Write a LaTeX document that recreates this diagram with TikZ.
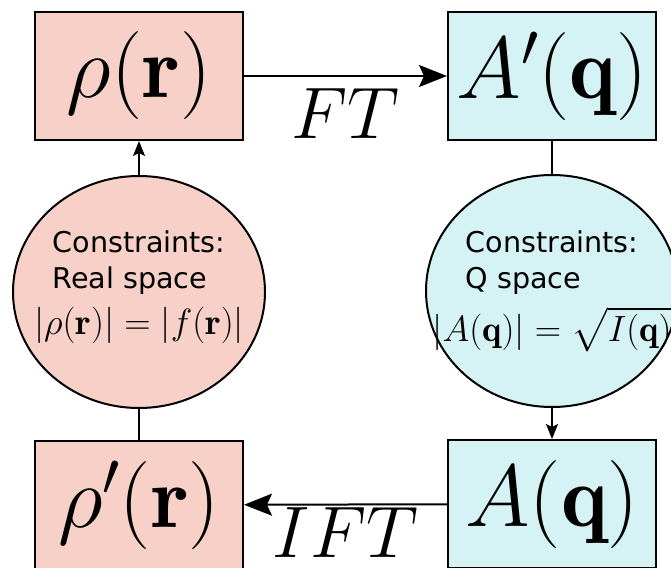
\RequirePackage{fix-cm}
\documentclass[tikz,border=0pt]{standalone}
\usepackage{amsmath,amssymb}
\usepackage{fontspec}
\setsansfont{DejaVu Sans}
\usetikzlibrary{arrows.meta,positioning,shapes.geometric}
\definecolor{salmon}{RGB}{247,209,199}
\definecolor{icecyan}{RGB}{213,242,244}

\begin{document}
\begin{tikzpicture}[x=1pt,y=1pt,>={Stealth[length=28pt,width=22pt,inset=5pt]},node distance=203pt,every node/.style={inner sep=0pt}]
\tikzstyle{box}=[draw,line width=2pt,minimum width=208pt,minimum height=128pt,font=\fontsize{88}{88}\selectfont]
\tikzstyle{blob}=[draw,ellipse,line width=2pt,minimum width=252pt,minimum height=232pt]
\tikzstyle{cons}=[align=center,font=\sffamily\fontsize{28.6}{36}\selectfont]
\tikzstyle{lbl}=[font=\fontsize{73}{73}\selectfont]
\tikzstyle{link}=[line width=1.6pt]
\tikzstyle{small}=[line width=1.6pt,-{Stealth[length=15pt,width=12pt,inset=3pt]}]
\useasboundingbox (0,0) rectangle (671,-567);
\node[box,fill=salmon] (rho) at (139,-76) {$\rho(\mathbf{r})$};
\node[box,fill=icecyan,right=of rho] (aprime) {$A'(\mathbf{q})$};
\node[blob,fill=salmon,below=34pt of rho] (real) {};
\node[blob,fill=icecyan,below=33pt of aprime] (qsp) {};
\node[box,fill=salmon,below=31pt of real] (rhop) {$\rho'(\mathbf{r})$};
\node[box,fill=icecyan,below=31pt of qsp] (aq) {$A(\mathbf{q})$};
% constraint texts
\node[cons] (realtxt) at ([yshift=6.5pt]real) {\begin{tabular}[b]{@{}l@{}}Constraints:\\Real space\end{tabular}\\[7pt]\fontsize{36.5}{36.5}\selectfont$|\rho(\mathbf{r})|=|f(\mathbf{r})|$};
\node[cons] (qtxt) at ([yshift=1.5pt]qsp) {\begin{tabular}[b]{@{}l@{}}Constraints:\\Q space\end{tabular}\\[7pt]\fontsize{36.5}{36.5}\selectfont$|A(\mathbf{q})|=\sqrt{I(\mathbf{q})}$};
\draw[->,line width=2pt] (rho) -- node[lbl,below=12pt] (ft) {$FT$} (aprime);
\draw[link] (aprime) -- (qsp);
\draw[small] (qsp) -- (aq);
\draw[->,line width=2pt] (aq) -- node[lbl,below=2pt] (ift) {$IFT$} (rhop);
\draw[link] (rhop) -- (real);
\draw[small] (real) -- (rho);
\end{tikzpicture}
\end{document}
